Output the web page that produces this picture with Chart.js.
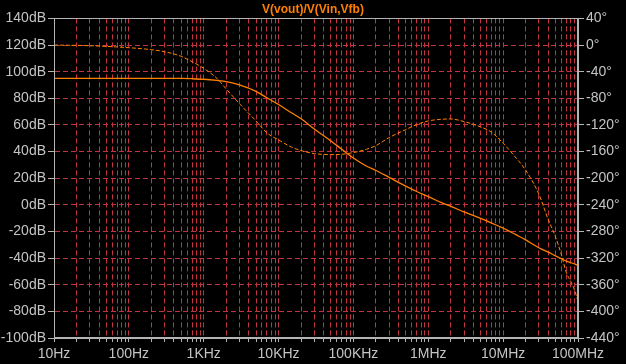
<!DOCTYPE html>
<html>
<head>
<meta charset="utf-8">
<script src="https://cdn.jsdelivr.net/npm/chart.js@4.4.1/dist/chart.umd.min.js"></script>
<style>
  html, body { margin: 0; padding: 0; background: #000; }
  canvas { display: block; }
</style>
</head>
<body>
<canvas id="bode" width="626" height="364"></canvas>
<script>
// frequencies (Hz) the curves were read at
const freqs = [10, 30, 100, 200, 300, 500, 700, 1000, 1500, 2000, 3000, 5000, 7000,
  1e4, 1.5e4, 2e4, 3e4, 5e4, 7e4, 1e5, 1.5e5, 2e5, 3e5, 5e5, 7e5,
  1e6, 1.5e6, 2e6, 3e6, 5e6, 7e6, 1e7, 1.5e7, 2e7, 3e7, 4e7, 5e7, 6e7, 7e7, 8e7, 9e7, 1e8];

// gain, dB (solid)
const magDb = [95, 95, 95, 95, 95, 94.9, 94.7, 94.3, 93.4, 92.5, 90.1, 85.2, 80.4,
  75.3, 69, 64.6, 57, 48, 41.7, 35.2, 29, 25.8, 20.6, 14, 10,
  6.2, 1.6, -1.2, -5.3, -10.2, -13.7, -17.5, -22.6, -26.3, -32.2, -35.5, -38.3, -40.5, -42.3, -43.4, -44.4, -45.5];

// phase, degrees (dashed)
const phaseDeg = [0, -1, -4, -7, -10, -17, -25, -35, -50, -66, -88, -114, -132,
  -142.5, -153.5, -158.5, -163, -164.5, -164, -161.5, -156.5, -151, -139, -127, -119.5,
  -114, -111.5, -111, -115, -123, -131, -147.5, -170, -188, -224, -262, -288, -315, -342, -355, -368, -385];

const xTickLabels = ['10Hz', '100Hz', '1KHz', '10KHz', '100KHz', '1MHz', '10MHz', '100MHz'];
const dbTicks = [140, 120, 100, 80, 60, 40, 20, 0, -20, -40, -60, -80, -100];
const degTicks = [40, 0, -40, -80, -120, -160, -200, -240, -280, -320, -360, -400, -440];

const title = 'V(vout)/V(Vin,Vfb)';
const orange = '#ff8000';
const gridRed = 'rgb(196,52,62)';
const axisGrey = '#b4b4b4';
const textGrey = '#c4c4c4';
const fontFam = "'Liberation Sans', Arial, sans-serif";

// every 1..9 x decade from 10Hz to 100MHz
function logTicks(scale) {
  const t = [];
  for (let d = 1; d <= 7; d++) {
    for (let m = 1; m <= 9; m++) t.push({ value: m * Math.pow(10, d) });
  }
  t.push({ value: 1e8 });
  scale.ticks = t;
}

// grey box round the plot area
const frame = {
  id: 'frame',
  afterDraw(chart) {
    const a = chart.chartArea, c = chart.ctx;
    c.save();
    c.setLineDash([]);
    c.strokeStyle = axisGrey;
    c.lineWidth = 1;
    c.strokeRect(Math.round(a.left) + 0.5, Math.round(a.top) + 0.5,
      Math.round(a.right - a.left) - 1, Math.round(a.bottom - a.top) - 1);
    c.restore();
  }
};

new Chart(document.getElementById('bode'), {
  type: 'line',
  data: {
    datasets: [
      {
        data: freqs.map((f, i) => ({ x: f, y: magDb[i] })),
        yAxisID: 'y',
        borderColor: orange,
        borderWidth: 1.3,
        pointRadius: 0,
        cubicInterpolationMode: 'monotone'
      },
      {
        data: freqs.map((f, i) => ({ x: f, y: phaseDeg[i] })),
        yAxisID: 'y2',
        borderColor: orange,
        borderWidth: 1,
        borderDash: [4, 2],
        pointRadius: 0,
        cubicInterpolationMode: 'monotone'
      }
    ]
  },
  options: {
    responsive: false,
    animation: false,
    devicePixelRatio: 1,
    layout: { padding: 0 },
    plugins: {
      legend: { display: false },
      tooltip: { enabled: false },
      title: {
        display: true,
        text: title,
        color: orange,
        font: { family: fontFam, size: 12, weight: 'bold' },
        padding: { top: 2, bottom: 2 }
      }
    },
    scales: {
      x: {
        type: 'logarithmic',
        min: 10,
        max: 1e8,
        afterBuildTicks: logTicks,
        afterFit(s) { s.height = 26; },
        border: { color: axisGrey, dash: [5, 3] },
        grid: {
          color: gridRed,
          tickColor: axisGrey,
          tickBorderDash: [],
          tickLength: 4
        },
        ticks: {
          autoSkip: false,
          maxRotation: 0,
          padding: 4,
          color: textGrey,
          font: { family: fontFam, size: 14 },
          callback(v) {
            const e = Math.log10(v);
            return Math.abs(e - Math.round(e)) < 1e-9 ? xTickLabels[Math.round(e) - 1] : '';
          }
        }
      },
      y: {
        position: 'left',
        min: -100,
        max: 140,
        afterBuildTicks(s) { s.ticks = dbTicks.map(v => ({ value: v })); },
        afterFit(s) { s.width = 54; },
        border: { color: axisGrey, dash: [5, 3] },
        grid: {
          color: gridRed,
          tickColor: axisGrey,
          tickBorderDash: [],
          tickLength: 6
        },
        ticks: {
          padding: 2,
          color: textGrey,
          font: { family: fontFam, size: 14 },
          callback: v => v + 'dB'
        }
      },
      y2: {
        position: 'right',
        min: -440,
        max: 40,
        afterBuildTicks(s) { s.ticks = degTicks.map(v => ({ value: v })); },
        afterFit(s) { s.width = 48; },
        border: { color: axisGrey },
        grid: {
          drawOnChartArea: false,
          color: axisGrey,
          tickLength: 6
        },
        ticks: {
          padding: 2,
          color: textGrey,
          font: { family: fontFam, size: 14 },
          callback: v => v + '°'
        }
      }
    }
  },
  plugins: [frame]
});
</script>
</body>
</html>
